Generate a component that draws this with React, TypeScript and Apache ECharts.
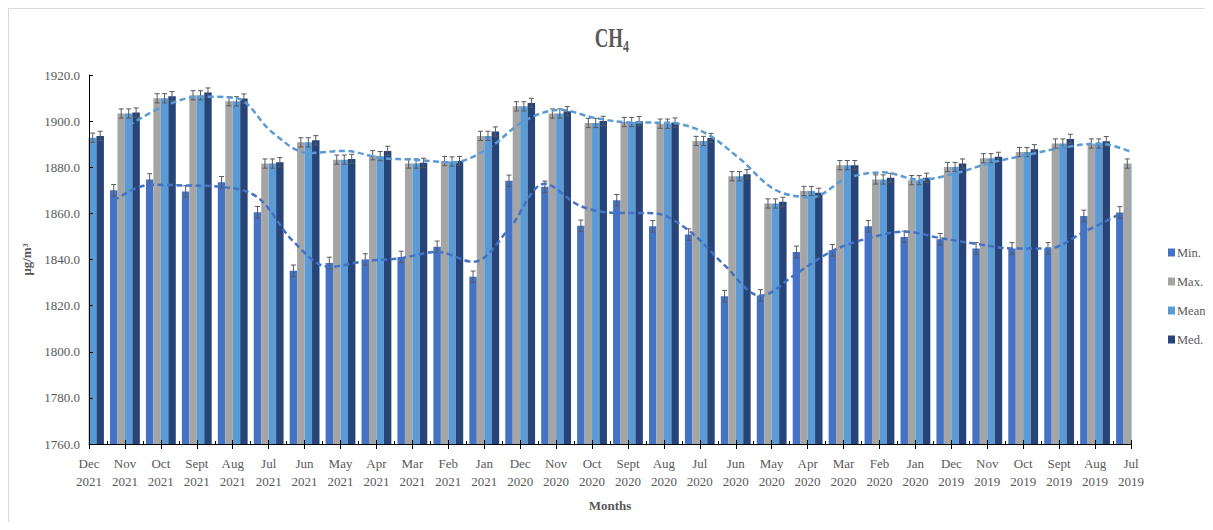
import React, { useEffect, useRef } from "react";
import * as echarts from "echarts";

// Monthly CH4 statistics, newest month first
const months = [
  "Dec\n2021", "Nov\n2021", "Oct\n2021", "Sept\n2021", "Aug\n2021", "Jul\n2021",
  "Jun\n2021", "May\n2021", "Apr\n2021", "Mar\n2021", "Feb\n2021", "Jan\n2021",
  "Dec\n2020", "Nov\n2020", "Oct\n2020", "Sept\n2020", "Aug\n2020", "Jul\n2020",
  "Jun\n2020", "May\n2020", "Apr\n2020", "Mar\n2020", "Feb\n2020", "Jan\n2020",
  "Dec\n2019", "Nov\n2019", "Oct\n2019", "Sept\n2019", "Aug\n2019", "Jul\n2019",
];

const minValues = [
  1861.0, 1870.0, 1874.7, 1869.5, 1873.5, 1860.5, 1835.1, 1838.5, 1840.0, 1841.1,
  1845.5, 1832.5, 1874.1, 1871.5, 1854.6, 1865.7, 1854.4, 1850.8, 1824.1, 1824.4,
  1843.3, 1844.0, 1854.4, 1849.8, 1848.8, 1844.8, 1844.8, 1844.8, 1858.9, 1860.4,
];
const maxValues = [
  1892.8, 1903.3, 1909.9, 1911.2, 1908.6, 1881.6, 1890.8, 1883.3, 1885.2, 1881.6,
  1882.7, 1893.6, 1906.4, 1903.3, 1899.2, 1899.6, 1898.9, 1891.4, 1876.1, 1864.3,
  1869.7, 1880.9, 1874.7, 1874.4, 1880.1, 1883.9, 1886.6, 1890.3, 1890.3, 1881.6,
];
const meanValues = [
  1892.8, 1903.3, 1909.9, 1911.2, 1908.6, 1881.6, 1890.8, 1883.3, 1884.8, 1881.6,
  1882.5, 1893.6, 1906.4, 1903.3, 1899.2, 1899.6, 1898.9, 1891.4, 1876.1, 1864.3,
  1869.7, 1880.9, 1874.7, 1874.4, 1880.1, 1883.9, 1886.6, 1890.3, 1890.3, 1881.6,
];
const medValues = [
  1893.6, 1903.7, 1910.8, 1912.4, 1909.8, 1882.2, 1891.7, 1883.6, 1887.1, 1881.9,
  1882.7, 1895.5, 1907.9, 1904.3, 1900.1, 1900.0, 1899.4, 1892.7, 1877.0, 1865.0,
  1868.9, 1880.9, 1875.4, 1875.4, 1881.6, 1884.5, 1887.8, 1892.3, 1891.3, 1882.0,
];

// Standard error per statistic
const errMin = 2.5;
const errMax = 2.0;
const errMean = 2.0;
const errMed = 2.0;

// Two-period moving averages of Min and Mean (no value for the first month)
const minTrend = [
  null, 1865.5, 1872.4, 1872.1, 1871.5, 1867.0, 1847.8, 1836.8, 1839.3, 1840.6,
  1843.3, 1839.0, 1853.3, 1872.8, 1863.1, 1860.2, 1860.1, 1852.6, 1837.5, 1824.3,
  1833.9, 1843.7, 1849.2, 1852.1, 1849.3, 1846.8, 1844.8, 1844.8, 1851.9, 1859.7,
];
const meanTrend = [
  null, 1898.1, 1906.6, 1910.6, 1909.9, 1895.1, 1886.2, 1887.1, 1884.1, 1883.2,
  1882.1, 1888.1, 1900.0, 1904.9, 1901.3, 1899.4, 1899.3, 1895.2, 1883.8, 1870.2,
  1867.0, 1875.3, 1877.8, 1874.6, 1877.3, 1882.0, 1885.3, 1888.5, 1890.3, 1886.0,
];

const yTicks = { min: 1760, max: 1920, step: 20 };

const COLORS = {
  min: "#4472C4",
  max: "#A5A5A5",
  mean: "#5B9BD5",
  med: "#264478",
  text: "#595959",
  axis: "#000000",
  err: "#595959",
};
const SERIF = '"Liberation Serif", "Times New Roman", serif';

// bar slot centres within a category (fraction of the category step)
const BAR_FRACTION = 0.83 / 4;
const slot = (k: number) => (k - 1.5) * BAR_FRACTION;

// plot area inside the chart canvas
const GRID = { left: 80, right: 74, top: 66, bottom: 78 };
const CHART_W = 1196;
const CHART_H = 513;

export default function App() {
  const ref = useRef<HTMLDivElement>(null);

  useEffect(() => {
    if (!ref.current) return;
    const chart = echarts.init(ref.current, null, { renderer: "svg" });

    const groups = [
      { values: minValues, err: errMin, k: 0 },
      { values: maxValues, err: errMax, k: 1 },
      { values: meanValues, err: errMean, k: 2 },
      { values: medValues, err: errMed, k: 3 },
    ];
    const errData: number[][] = [];
    groups.forEach((g) =>
      g.values.forEach((v, i) => errData.push([i + slot(g.k), v, g.err]))
    );

    const trendPoints = (arr: (number | null)[], k: number) =>
      arr
        .map((v, i) => (v == null ? null : [i + slot(k), v]))
        .filter((p) => p !== null);

    const barSeries = (name: string, data: number[], color: string) => ({
      name,
      type: "bar",
      xAxisIndex: 0,
      yAxisIndex: 0,
      data,
      barGap: "0%",
      barCategoryGap: "17%",
      itemStyle: { color },
      z: 2,
    });

    const plotBottom = CHART_H - GRID.bottom;
    const plotRight = CHART_W - GRID.right;

    chart.setOption({
      animation: false,
      textStyle: { fontFamily: SERIF },
      grid: { ...GRID, containLabel: false },
      legend: {
        data: ["Min.", "Max.", "Mean", "Med."],
        orient: "vertical",
        left: 1154,
        top: 232,
        itemWidth: 7,
        itemHeight: 8,
        itemGap: 16,
        icon: "rect",
        textStyle: { color: COLORS.text, fontSize: 12.5, fontFamily: SERIF, padding: [0, 0, 0, -3] },
      },
      xAxis: [
        {
          type: "category",
          data: months,
          boundaryGap: false,
          z: 10,
          name: "Months",
          nameLocation: "middle",
          nameGap: 55,
          nameTextStyle: { color: COLORS.text, fontSize: 13, fontWeight: "bold", fontFamily: SERIF },
          axisLine: { lineStyle: { color: COLORS.axis, width: 1 } },
          axisTick: { show: true, inside: false, length: 5, interval: 0, lineStyle: { color: COLORS.axis } },
          axisLabel: {
            interval: 0,
            color: COLORS.text,
            fontSize: 13,
            lineHeight: 18,
            margin: 10,
            fontFamily: SERIF,
          },
          splitLine: { show: false },
        },
        {
          // companion scale for trend lines, error bars and the inner tick marks
          type: "value",
          position: "bottom",
          min: 0,
          max: months.length - 1,
          interval: 1,
          z: 10,
          axisLine: { show: false },
          axisLabel: { show: false },
          splitLine: { show: false },
          axisTick: { show: true, inside: true, length: 4, lineStyle: { color: COLORS.axis } },
          minorTick: { show: true, splitNumber: 2, length: 3, lineStyle: { color: COLORS.axis } },
          minorSplitLine: { show: false },
        },
      ],
      yAxis: {
        type: "value",
        min: yTicks.min,
        max: yTicks.max,
        interval: yTicks.step,
        z: 10,
        name: "μg/m³",
        nameLocation: "middle",
        nameGap: 49,
        nameRotate: 90,
        nameTextStyle: { color: COLORS.text, fontSize: 13, fontWeight: "bold", fontFamily: SERIF },
        axisLine: { show: true, lineStyle: { color: COLORS.axis, width: 1 } },
        axisTick: { show: true, inside: true, length: 4, lineStyle: { color: COLORS.axis } },
        axisLabel: {
          color: COLORS.text,
          fontSize: 13,
          margin: 9,
          fontFamily: SERIF,
          formatter: (v: number) => v.toFixed(1),
        },
        splitLine: { show: false },
      },
      graphic: [
        // white bands hide the halves of the edge bar groups that fall outside the plot
        {
          type: "rect",
          z: 5,
          silent: true,
          shape: { x: GRID.left - 26, y: GRID.top - 6, width: 25.5, height: plotBottom - GRID.top + 6 },
          style: { fill: "#ffffff" },
        },
        {
          type: "rect",
          z: 5,
          silent: true,
          shape: { x: plotRight + 0.5, y: GRID.top - 6, width: 24, height: plotBottom - GRID.top + 6 },
          style: { fill: "#ffffff" },
        },
        {
          type: "text",
          x: 614,
          y: 29,
          scaleX: 0.7,
          style: {
            text: "CH",
            font: `bold 27px ${SERIF}`,
            fill: COLORS.text,
            textAlign: "right",
            textVerticalAlign: "middle",
            align: "right",
            verticalAlign: "middle",
          },
        },
        {
          type: "text",
          x: 614,
          y: 37,
          scaleX: 0.7,
          style: {
            text: "4",
            font: `bold 17px ${SERIF}`,
            fill: COLORS.text,
            textAlign: "left",
            textVerticalAlign: "middle",
            align: "left",
            verticalAlign: "middle",
          },
        },
      ],
      series: [
        barSeries("Min.", minValues, COLORS.min),
        barSeries("Max.", maxValues, COLORS.max),
        barSeries("Mean", meanValues, COLORS.mean),
        barSeries("Med.", medValues, COLORS.med),
        {
          name: "error",
          type: "custom",
          xAxisIndex: 1,
          yAxisIndex: 0,
          clip: true,
          z: 3,
          data: errData,
          encode: { x: 0, y: 1 },
          renderItem: (_params: any, api: any) => {
            const x = api.value(0);
            const v = api.value(1);
            const e = api.value(2);
            const top = api.coord([x, v + e]);
            const bot = api.coord([x, v - e]);
            const hw = 2.5;
            const style = { stroke: COLORS.err, lineWidth: 1 };
            return {
              type: "group",
              children: [
                { type: "line", shape: { x1: top[0], y1: top[1], x2: bot[0], y2: bot[1] }, style },
                { type: "line", shape: { x1: top[0] - hw, y1: top[1], x2: top[0] + hw, y2: top[1] }, style },
                { type: "line", shape: { x1: bot[0] - hw, y1: bot[1], x2: bot[0] + hw, y2: bot[1] }, style },
              ],
            };
          },
        },
        {
          name: "Min trend",
          type: "line",
          xAxisIndex: 1,
          yAxisIndex: 0,
          data: trendPoints(minTrend, 0),
          smooth: 0.35,
          symbol: "none",
          clip: true,
          z: 4,
          lineStyle: { color: COLORS.min, width: 2.5, type: [6, 3.5] },
        },
        {
          name: "Mean trend",
          type: "line",
          xAxisIndex: 1,
          yAxisIndex: 0,
          data: trendPoints(meanTrend, 2),
          smooth: 0.35,
          symbol: "none",
          clip: true,
          z: 4,
          lineStyle: { color: COLORS.mean, width: 2.5, type: [6, 3.5] },
        },
      ],
    });

    return () => chart.dispose();
  }, []);

  return (
    <div
      style={{
        width: CHART_W + 1,
        height: CHART_H + 1,
        boxSizing: "border-box",
        borderTop: "1px solid #d9d9d9",
        borderLeft: "1px solid #d9d9d9",
      }}
    >
      <div ref={ref} style={{ width: CHART_W, height: CHART_H }} />
    </div>
  );
}
